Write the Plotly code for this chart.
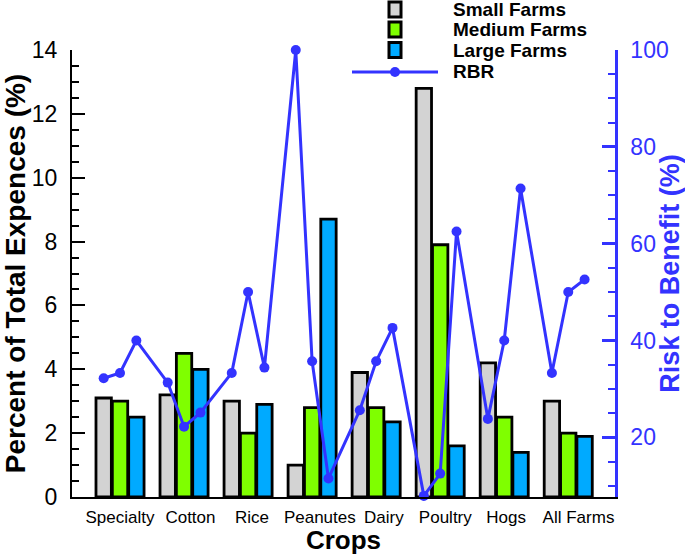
import plotly.graph_objects as go

categories = ["Specialty", "Cotton", "Rice", "Peanutes", "Dairy", "Poultry", "Hogs", "All Farms"]
small_farms = [3.1, 3.2, 3.0, 1.0, 3.9, 12.8, 4.2, 3.0]
medium_farms = [3.0, 4.5, 2.0, 2.8, 2.8, 7.9, 2.5, 2.0]
large_farms = [2.5, 4.0, 2.9, 8.7, 2.35, 1.6, 1.4, 1.9]
# RBR: three values per crop (small, medium, large)
rbr = [32.2, 33.3, 40.0,
       31.3, 22.2, 25.1,
       33.3, 50.0, 34.4,
       100.0, 35.7, 11.5,
       25.6, 35.7, 42.6,
       7.9, 12.5, 62.5,
       23.8, 40.0, 71.4,
       33.3, 50.0, 52.6]

series_names = ["Small Farms", "Medium Farms", "Large Farms"]
series_vals = [small_farms, medium_farms, large_farms]
series_colors = ["#d3d3d3", "#7fff00", "#00aaff"]
LINE_COLOR = "#3333ff"
FONT = "Liberation Sans, Arial, sans-serif"

BARGAP = 0.234
slot = (1 - BARGAP) / 3

fig = go.Figure()
xs = list(range(len(categories)))
for name, vals, col in zip(series_names, series_vals, series_colors):
    fig.add_trace(go.Bar(x=xs, y=vals, name=name, marker=dict(color=col, line=dict(color="black", width=2.8)),
                         showlegend=False))

rbr_x = [i + (k - 1) * slot for i in xs for k in range(3)]
fig.add_trace(go.Scatter(x=rbr_x, y=rbr, yaxis="y2", mode="lines+markers", name="RBR",
                         line=dict(color=LINE_COLOR, width=3), marker=dict(color=LINE_COLOR, size=10),
                         showlegend=False, cliponaxis=False))

L, R, T, B = 72, 615, 50, 497
W, H = 685, 555
def px(x):
    return (x - L) / (R - L)
def py(y):
    return (B - y) / (B - T)

# small horizontal nudges of the category labels (layout only), as in the original
label_nudge = [0.0, 0.1, 0.06, 0.12, 0.12, 0.08, 0.03, 0.16]
label_pos = [i + d for i, d in zip(xs, label_nudge)]

shapes = []
annotations = []
legend_rows = [(9.5, "Small Farms"), (29.5, "Medium Farms"), (50, "Large Farms")]
for (yc, name), col in zip(legend_rows, series_colors):
    shapes.append(dict(type="rect", xref="paper", yref="paper", x0=px(389), x1=px(401), y0=py(yc - 7.5), y1=py(yc + 7.5),
                       fillcolor=col, line=dict(color="black", width=3)))
    annotations.append(dict(xref="paper", yref="paper", x=px(451), y=py(yc), text="<b>%s</b>" % name,
                            showarrow=False, xanchor="left", yanchor="middle",
                            font=dict(family=FONT, size=19, color="black")))
shapes.append(dict(type="line", xref="paper", yref="paper", x0=px(352), x1=px(438), y0=py(72), y1=py(72),
                   line=dict(color=LINE_COLOR, width=3)))
shapes.append(dict(type="circle", xref="paper", yref="paper", x0=px(390), x1=px(400), y0=py(77), y1=py(67),
                   fillcolor=LINE_COLOR, line=dict(color=LINE_COLOR, width=0)))
annotations.append(dict(xref="paper", yref="paper", x=px(451), y=py(72), text="<b>RBR</b>",
                        showarrow=False, xanchor="left", yanchor="middle",
                        font=dict(family=FONT, size=19, color="black")))

fig.update_layout(
    width=W, height=H,
    margin=dict(l=L, r=W - R, t=T, b=H - B, pad=0, autoexpand=False),
    paper_bgcolor="white", plot_bgcolor="white",
    barmode="group", bargap=BARGAP, bargroupgap=0.06,
    font=dict(family=FONT, color="black"),
    shapes=shapes, annotations=annotations,
    xaxis=dict(range=[-0.75, 7.73], tickvals=label_pos, ticktext=categories, showgrid=False, zeroline=False,
               automargin=False,
               showline=True, linecolor="black", linewidth=2, ticks="", tickfont=dict(size=17, color="black"),
               ticklabelstandoff=4,
               title=dict(text="<b>Crops</b>", font=dict(size=26, color="black"), standoff=4)),
    yaxis=dict(range=[0, 14], dtick=2, tick0=0, showgrid=False, zeroline=False, showline=True,
               automargin=False,
               linecolor="black", linewidth=2, ticks="inside", ticklen=13, tickwidth=2, tickcolor="black",
               minor=dict(dtick=0.5, ticks="inside", ticklen=7, tickwidth=1.5, tickcolor="black"),
               tickfont=dict(size=23, color="black"), ticklabelstandoff=8,
               title=dict(text="<b>Percent of Total Expences (%)</b>", font=dict(size=28, color="black"), standoff=3)),
    yaxis2=dict(range=[7.67, 100], overlaying="y", side="right", tick0=0, dtick=20, showgrid=False,
                automargin=False,
                zeroline=False, showline=True, linecolor=LINE_COLOR, linewidth=2.5, ticks="inside",
                ticklen=13, tickwidth=2.5, tickcolor=LINE_COLOR,
                minor=dict(dtick=5, ticks="inside", ticklen=7, tickwidth=1.5, tickcolor=LINE_COLOR),
                tickfont=dict(size=23, color=LINE_COLOR), ticklabelstandoff=8,
                title=dict(text="<b>Risk to Benefit (%)</b>", font=dict(size=27, color=LINE_COLOR), standoff=0)),
)

fig.write_html("out.html", config={"displayModeBar": False},
               post_script="document.body.style.margin='0px';document.body.style.padding='0px';")
